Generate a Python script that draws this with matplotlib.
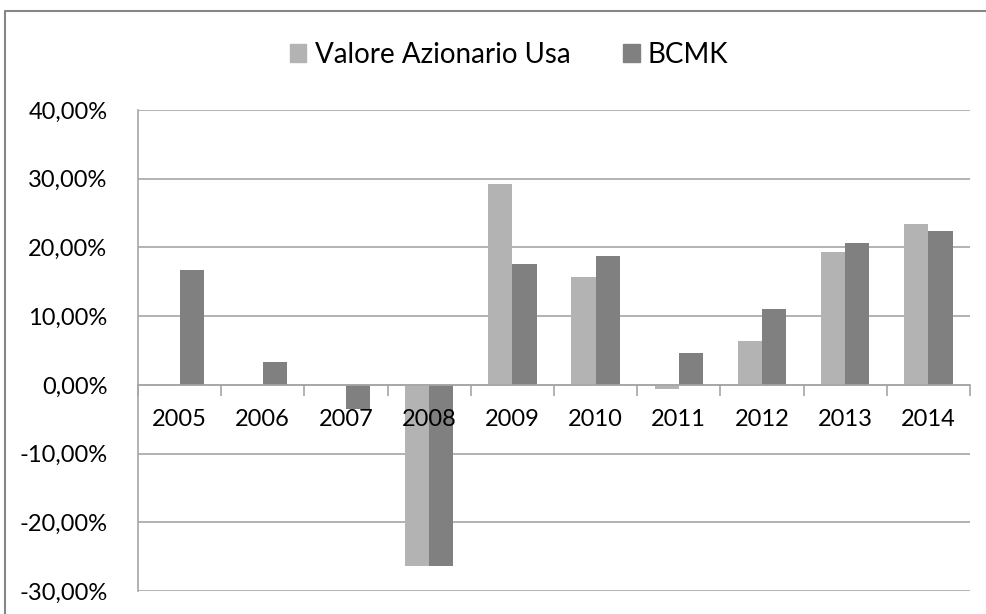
import numpy as np
import matplotlib.pyplot as plt
from matplotlib.patches import Patch
from matplotlib.lines import Line2D
from matplotlib.ticker import FuncFormatter

years = ["2005", "2006", "2007", "2008", "2009", "2010", "2011", "2012", "2013", "2014"]
valore_usa = [0.0, 0.0, 0.0, -26.4, 29.3, 15.7, -0.6, 6.4, 19.3, 23.4]
bcmk = [16.7, 3.3, -3.5, -26.4, 17.6, 18.7, 4.6, 11.1, 20.6, 22.4]

c_usa = "#b3b3b3"
c_bcmk = "#808080"
grid_c = "#a6a6a6"

plt.rcParams["font.family"] = ["Lato", "DejaVu Sans"]

fig = plt.figure(figsize=(9.86, 6.14), dpi=100)
ax = fig.add_axes([138 / 986, 1 - 591 / 614, (970 - 138) / 986, (591 - 110) / 614])

x = np.arange(len(years))
w = 0.29
ax.bar(x - w / 2, np.array(valore_usa) / 100, w, color=c_usa, zorder=2)
ax.bar(x + w / 2, np.array(bcmk) / 100, w, color=c_bcmk, zorder=2)

ax.set_xlim(-0.5, len(years) - 0.5)
ax.set_ylim(-0.30, 0.40)
ax.set_yticks(np.arange(-0.30, 0.401, 0.10))
ax.yaxis.set_major_formatter(FuncFormatter(lambda v, p: f"{v * 100:.2f}%".replace(".", ",")))
ax.yaxis.grid(True, color=grid_c, linewidth=1.2, zorder=0)
ax.set_axisbelow(True)

for s in ["top", "right"]:
    ax.spines[s].set_visible(False)
ax.spines["left"].set_color(grid_c)
ax.spines["left"].set_linewidth(1.2)
ax.spines["bottom"].set_position(("data", 0))
ax.spines["bottom"].set_color(grid_c)
ax.spines["bottom"].set_linewidth(1.2)

# category labels drawn on top of the bars, just under the zero line
ax.set_xticks(x)
ax.set_xticklabels([])
for xi, yr in zip(x, years):
    ax.annotate(yr, (xi, 0), xytext=(0, -35), textcoords="offset pixels",
                ha="center", va="center", fontsize=17, zorder=5)
ax.set_xticks(np.arange(-0.5, len(years)), minor=True)
ax.tick_params(axis="x", which="major", length=0)
ax.tick_params(axis="x", which="minor", length=8, width=1.2, color=grid_c, direction="out")
ax.tick_params(axis="y", length=0, pad=22, labelsize=17)

handles = [Patch(color=c_usa, label="Valore Azionario Usa"),
           Patch(color=c_bcmk, label="BCMK")]
fig.legend(handles=handles, loc="center", bbox_to_anchor=(509 / 986, 1 - 55 / 614), ncol=2,
           frameon=False, fontsize=20, handlelength=0.6, handleheight=0.6,
           handletextpad=0.3, columnspacing=1.9)

# outer chart frame
fx = 4.5 / 986
fy = 1 - 10.5 / 614
fig.add_artist(Line2D([fx, fx, 1.0], [0.0, fy, fy], transform=fig.transFigure,
                      color="#868686", linewidth=1.5))

fig.savefig("out.png", dpi=100)
